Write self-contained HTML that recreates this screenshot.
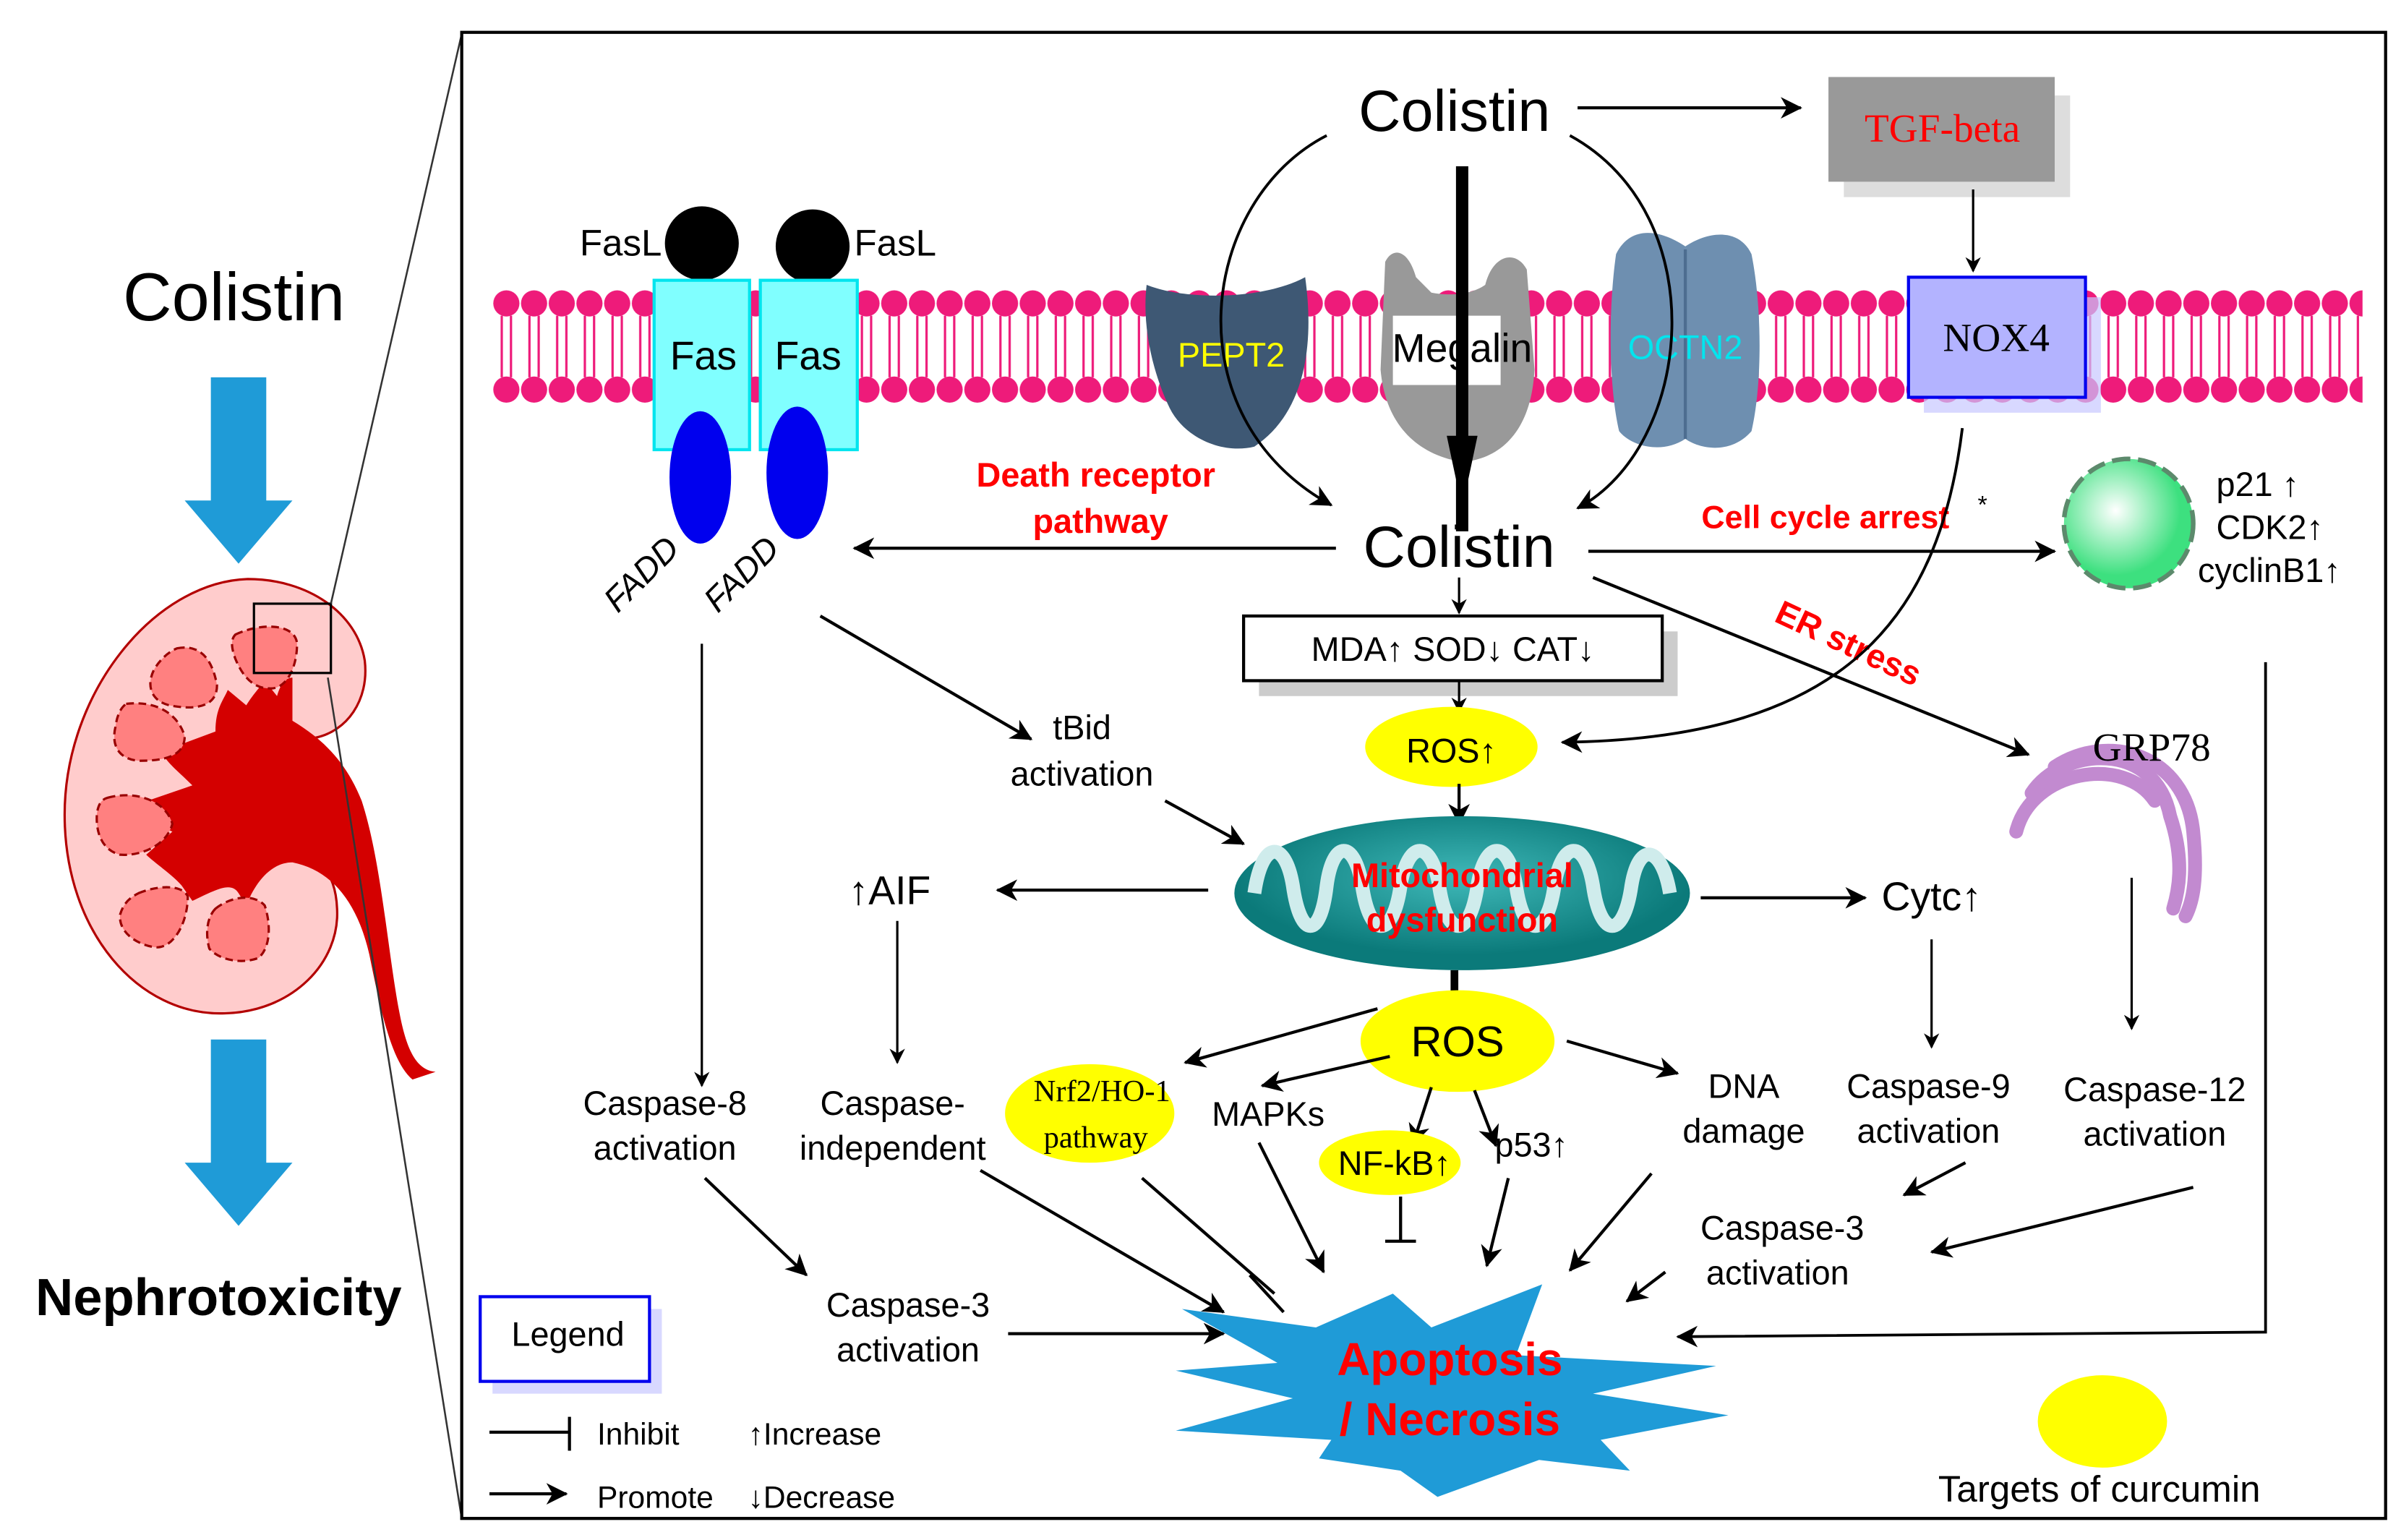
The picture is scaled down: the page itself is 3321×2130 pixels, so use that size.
<!DOCTYPE html>
<html><head><meta charset="utf-8"><style>
html,body{margin:0;padding:0;background:#fff}
svg{display:block}
text{font-family:"Liberation Sans",sans-serif}
</style></head><body>
<svg width="3321" height="2130" viewBox="0 0 1560 1000" preserveAspectRatio="none" xmlns="http://www.w3.org/2000/svg">
<defs>
<marker id="a" markerWidth="10" markerHeight="10" refX="9" refY="5" orient="auto" markerUnits="userSpaceOnUse" viewBox="0 0 10 10"><path d="M0,0 L10,5 L0,10 L3,5 z" fill="#000"/></marker>
<marker id="s" markerWidth="14" markerHeight="14" refX="13" refY="7" orient="auto" markerUnits="userSpaceOnUse" viewBox="0 0 14 14"><path d="M0,0 L14,7 L0,14 L4,7 z" fill="#000"/></marker>
<pattern id="mem" x="320" y="185" width="18" height="80" patternUnits="userSpaceOnUse">
<circle cx="9" cy="12" r="8.5" fill="#ee1b7a"/><circle cx="9" cy="68" r="8.5" fill="#ee1b7a"/>
<line x1="6" y1="20" x2="6" y2="60" stroke="#ee1b7a" stroke-width="1.5"/><line x1="12" y1="20" x2="12" y2="60" stroke="#ee1b7a" stroke-width="1.5"/>
</pattern>
<radialGradient id="cell" cx="40%" cy="40%"><stop offset="0" stop-color="#fff"/><stop offset="1" stop-color="#3de07f"/></radialGradient>
<radialGradient id="mito" cx="50%" cy="40%"><stop offset="0" stop-color="#3fb8b8"/><stop offset="1" stop-color="#0b7a7a"/></radialGradient>
</defs>

<!-- left panel -->
<text x="152" y="208" font-size="44" text-anchor="middle">Colistin</text>
<path d="M137,245 H173 V325 H190 L155,366 L120,325 H137 z" fill="#1f9bd7"/>
<path d="M137,675 H173 V755 H190 L155,796 L120,755 H137 z" fill="#1f9bd7"/>
<text x="142" y="854" font-size="34" font-weight="bold" text-anchor="middle">Nephrotoxicity</text>
<!-- kidney -->
<path d="M161,376 C100,378 42,450 42,529 C42,605 90,660 146,658 C190,657 221,625 219,590 C218,565 205,552 185,553 L205,479 C225,475 240,455 237,429 C232,398 200,376 161,376 z" fill="#ffcccc" stroke="#b30000" stroke-width="1.5"/>
<path d="M190,468 C210,480 225,495 235,520 C248,560 252,620 260,660 C265,685 272,695 283,696 L268,701 C255,690 248,660 240,620 C232,585 215,565 190,560 C175,560 165,575 160,588 L155,580 C150,572 140,578 125,585 L118,575 C112,568 100,560 95,555 L112,540 C100,535 98,528 90,522 L125,510 C115,500 108,495 105,488 L140,475 C140,460 145,455 148,448 L160,458 C165,450 170,445 172,442 L180,452 C182,445 185,440 190,440 z" fill="#d40000"/>
<g fill="#ff8080" stroke="#990000" stroke-width="1.5" stroke-dasharray="5,3">
<path d="M153,412 C170,404 192,405 193,418 C193,435 185,448 175,447 C165,447 158,440 153,428 C150,420 150,415 153,412 z"/>
<path d="M115,421 C130,418 138,428 141,445 C141,460 125,461 110,458 C98,455 95,445 100,435 C104,428 110,423 115,421 z"/>
<path d="M82,457 C100,455 115,462 120,478 C120,492 105,494 90,494 C78,493 72,485 75,472 C76,465 78,460 82,457 z"/>
<path d="M70,518 C88,513 108,520 112,535 C108,550 90,556 78,555 C66,552 62,540 63,528 C64,522 66,519 70,518 z"/>
<path d="M90,580 C102,575 118,574 122,582 C122,600 112,617 100,615 C88,613 77,605 78,594 C80,587 84,583 90,580 z"/>
<path d="M140,590 C150,582 165,580 172,588 C176,600 176,615 168,622 C158,626 143,624 136,616 C133,605 135,595 140,590 z"/>
</g>
<rect x="165" y="392" width="50" height="45" fill="none" stroke="#000" stroke-width="1.5"/>
<line x1="215" y1="392" x2="300" y2="22" stroke="#333" stroke-width="1.2"/>
<line x1="213" y1="440" x2="300" y2="986" stroke="#333" stroke-width="1.2"/>

<!-- frame -->
<rect x="300" y="21" width="1250" height="965" fill="none" stroke="#000" stroke-width="2"/>

<!-- membrane -->
<rect x="320" y="185" width="1215" height="80" fill="url(#mem)"/>

<!-- Fas -->
<circle cx="456" cy="158" r="24" fill="#000"/><circle cx="528" cy="160" r="24" fill="#000"/>
<text x="430" y="166" font-size="24" text-anchor="end">FasL</text>
<text x="555" y="166" font-size="24">FasL</text>
<rect x="425" y="182" width="62" height="110" fill="#80ffff" stroke="#00e5ee" stroke-width="2"/>
<rect x="494" y="182" width="63" height="110" fill="#80ffff" stroke="#00e5ee" stroke-width="2"/>
<text x="457" y="240" font-size="26" text-anchor="middle">Fas</text>
<text x="525" y="240" font-size="26" text-anchor="middle">Fas</text>
<ellipse cx="455" cy="310" rx="20" ry="43" fill="#0000ee"/>
<ellipse cx="518" cy="307" rx="20" ry="43" fill="#0000ee"/>
<text x="422" y="378" font-size="22" transform="rotate(-45 422 378)" text-anchor="middle" font-style="italic">FADD</text>
<text x="487" y="378" font-size="22" transform="rotate(-45 487 378)" text-anchor="middle" font-style="italic">FADD</text>

<!-- transporters -->
<path d="M745,185 C770,195 820,195 848,180 C855,230 845,270 815,290 C795,295 770,285 760,265 C748,240 742,210 745,185 z" fill="#3e5874"/>
<text x="800" y="238" font-size="22" fill="#ffff00" text-anchor="middle">PEPT2</text>
<path d="M900,170 C905,160 915,162 920,180 L930,190 C940,192 955,192 965,185 C970,165 985,162 992,175 L997,240 C995,280 975,298 950,300 C920,295 900,275 897,240 z" fill="#999"/>
<rect x="905" y="205" width="70" height="45" fill="#fff"/>
<text x="950" y="235" font-size="26" text-anchor="middle">Megalin</text>
<path d="M1050,165 C1060,145 1080,150 1095,160 C1110,150 1130,148 1138,165 C1145,200 1145,250 1138,280 C1125,295 1105,292 1095,285 C1080,295 1060,290 1052,280 C1045,250 1045,200 1050,165 z" fill="#6e8fb0"/>
<line x1="1095" y1="162" x2="1095" y2="285" stroke="#4d6d90" stroke-width="2"/>
<text x="1095" y="233" font-size="22" fill="#00e5ee" text-anchor="middle">OCTN2</text>

<!-- NOX4 / TGF -->
<rect x="1250" y="193" width="115" height="75" fill="#c8c8ff" opacity=".7"/>
<rect x="1240" y="180" width="115" height="78" fill="#b3b3ff" stroke="#0000ee" stroke-width="2"/>
<text x="1297" y="228" font-size="26" text-anchor="middle" style="font-family:'Liberation Serif',serif">NOX4</text>
<rect x="1198" y="62" width="147" height="66" fill="#ddd"/>
<rect x="1188" y="50" width="147" height="68" fill="#999"/>
<text x="1262" y="92" font-size="26" fill="#ff0000" text-anchor="middle" style="font-family:'Liberation Serif',serif">TGF-beta</text>
<line x1="1282" y1="123" x2="1282" y2="176" stroke="#000" stroke-width="1.5" marker-end="url(#a)"/>

<!-- Colistin top -->
<text x="945" y="85" font-size="38" text-anchor="middle">Colistin</text>
<line x1="1025" y1="70" x2="1170" y2="70" stroke="#000" stroke-width="2" marker-end="url(#s)"/>
<line x1="950" y1="108" x2="950" y2="345" stroke="#000" stroke-width="8"/>
<path d="M940,283 L960,283 L950,330 z" fill="#000"/>
<path d="M862,88 C780,130 760,270 865,328" fill="none" stroke="#000" stroke-width="1.8" marker-end="url(#s)"/>
<path d="M1020,88 C1115,140 1100,290 1025,330" fill="none" stroke="#000" stroke-width="1.8" marker-end="url(#s)"/>

<!-- Colistin middle -->
<text x="948" y="368" font-size="38" text-anchor="middle">Colistin</text>
<text x="712" y="316" font-size="22" fill="#ff0000" font-weight="bold" text-anchor="middle">Death receptor</text>
<text x="715" y="346" font-size="22" fill="#ff0000" font-weight="bold" text-anchor="middle">pathway</text>
<line x1="868" y1="356" x2="555" y2="356" stroke="#000" stroke-width="2" marker-end="url(#s)"/>
<line x1="1032" y1="358" x2="1335" y2="358" stroke="#000" stroke-width="2" marker-end="url(#s)"/>
<text x="1186" y="343" font-size="21" fill="#ff0000" font-weight="bold" text-anchor="middle">Cell cycle arrest</text>
<text x="1285" y="333" font-size="16">*</text>
<circle cx="1383" cy="340" r="42" fill="url(#cell)" stroke="#5c8a6c" stroke-width="3" stroke-dasharray="12,5"/>
<text x="1440" y="322" font-size="22">p21 ↑</text>
<text x="1440" y="350" font-size="22">CDK2↑</text>
<text x="1428" y="378" font-size="22">cyclinB1↑</text>
<line x1="1035" y1="375" x2="1318" y2="490" stroke="#000" stroke-width="2" marker-end="url(#s)"/>
<text x="1200" y="425" font-size="22" fill="#ff0000" font-weight="bold" text-anchor="middle" transform="rotate(25 1200 420)">ER stress</text>
<path d="M1275,278 C1260,400 1200,480 1015,482" fill="none" stroke="#000" stroke-width="1.8" marker-end="url(#s)"/>

<!-- MDA box -->
<line x1="948" y1="375" x2="948" y2="398" stroke="#000" stroke-width="1.5" marker-end="url(#a)"/>
<rect x="818" y="410" width="272" height="42" fill="#ccc"/>
<rect x="808" y="400" width="272" height="42" fill="#fff" stroke="#000" stroke-width="2"/>
<text x="944" y="429" font-size="22" text-anchor="middle">MDA↑ SOD↓ CAT↓</text>
<line x1="948" y1="442" x2="948" y2="462" stroke="#000" stroke-width="1.5" marker-end="url(#a)"/>
<ellipse cx="943" cy="485" rx="56" ry="26" fill="#ffff00"/>
<text x="943" y="495" font-size="22" text-anchor="middle">ROS↑</text>
<line x1="948" y1="509" x2="948" y2="535" stroke="#000" stroke-width="2" marker-end="url(#s)"/>

<!-- FADD branches -->
<line x1="533" y1="400" x2="670" y2="480" stroke="#000" stroke-width="2" marker-end="url(#s)"/>
<text x="703" y="480" font-size="22" text-anchor="middle">tBid</text>
<text x="703" y="510" font-size="22" text-anchor="middle">activation</text>
<line x1="757" y1="520" x2="808" y2="548" stroke="#000" stroke-width="2" marker-end="url(#s)"/>
<line x1="456" y1="418" x2="456" y2="705" stroke="#000" stroke-width="1.5" marker-end="url(#a)"/>

<!-- mitochondria -->
<ellipse cx="950" cy="580" rx="148" ry="50" fill="url(#mito)"/>
<path d="M815,580 C820,545 835,545 840,575 C845,610 858,610 862,575 C866,545 880,545 885,575 C890,610 905,610 910,575 C915,545 930,545 935,575 C940,610 955,610 960,575 C965,545 980,545 985,575 C990,610 1005,610 1010,575 C1015,545 1030,545 1035,575 C1040,610 1055,610 1060,575 C1065,545 1080,550 1085,580" fill="none" stroke="#cfecec" stroke-width="9"/>
<text x="950" y="576" font-size="22" fill="#ff0000" font-weight="bold" text-anchor="middle">Mitochondrial</text>
<text x="950" y="605" font-size="22" fill="#ff0000" font-weight="bold" text-anchor="middle">dysfunction</text>
<line x1="785" y1="578" x2="648" y2="578" stroke="#000" stroke-width="2" marker-end="url(#s)"/>
<text x="578" y="587" font-size="26" text-anchor="middle">↑AIF</text>
<line x1="583" y1="598" x2="583" y2="690" stroke="#000" stroke-width="1.5" marker-end="url(#a)"/>
<line x1="1105" y1="583" x2="1212" y2="583" stroke="#000" stroke-width="2" marker-end="url(#s)"/>
<text x="1255" y="591" font-size="26" text-anchor="middle">Cytc↑</text>
<line x1="1255" y1="610" x2="1255" y2="680" stroke="#000" stroke-width="1.5" marker-end="url(#a)"/>

<!-- GRP78 -->
<g fill="none" stroke="#c28ad0" stroke-width="9" stroke-linecap="round">
<path d="M1310,540 C1320,500 1380,490 1400,520"/>
<path d="M1320,515 C1340,485 1400,480 1410,530 C1420,560 1415,580 1412,590"/>
<path d="M1335,498 C1370,475 1420,490 1425,540 C1428,570 1425,585 1420,595"/>
</g>
<text x="1398" y="494" font-size="26" text-anchor="middle" style="font-family:'Liberation Serif',serif">GRP78</text>
<line x1="1385" y1="570" x2="1385" y2="668" stroke="#000" stroke-width="1.5" marker-end="url(#a)"/>
<polyline points="1472,430 1472,865 1090,868" fill="none" stroke="#000" stroke-width="1.8" marker-end="url(#s)"/>

<!-- ROS lower -->
<line x1="945" y1="630" x2="945" y2="660" stroke="#000" stroke-width="5"/>
<ellipse cx="947" cy="676" rx="63" ry="33" fill="#ffff00"/>
<text x="947" y="686" font-size="28" text-anchor="middle">ROS</text>
<line x1="895" y1="655" x2="770" y2="690" stroke="#000" stroke-width="2" marker-end="url(#s)"/>
<line x1="903" y1="686" x2="820" y2="705" stroke="#000" stroke-width="2" marker-end="url(#s)"/>
<line x1="930" y1="706" x2="918" y2="743" stroke="#000" stroke-width="2" marker-end="url(#s)"/>
<line x1="958" y1="708" x2="972" y2="744" stroke="#000" stroke-width="2" marker-end="url(#s)"/>
<line x1="1018" y1="676" x2="1090" y2="697" stroke="#000" stroke-width="2" marker-end="url(#s)"/>
<ellipse cx="708" cy="723" rx="55" ry="32" fill="#ffff00"/>
<text x="716" y="715" font-size="20" text-anchor="middle" style="font-family:'Liberation Serif',serif">Nrf2/HO-1</text>
<text x="712" y="745" font-size="20" text-anchor="middle" style="font-family:'Liberation Serif',serif">pathway</text>
<text x="824" y="731" font-size="22" text-anchor="middle">MAPKs</text>
<ellipse cx="903" cy="755" rx="46" ry="21" fill="#ffff00"/>
<text x="906" y="763" font-size="22" text-anchor="middle">NF-kB↑</text>
<text x="995" y="751" font-size="22" text-anchor="middle">p53↑</text>
<text x="1133" y="713" font-size="22" text-anchor="middle">DNA</text>
<text x="1133" y="742" font-size="22" text-anchor="middle">damage</text>
<text x="1253" y="713" font-size="22" text-anchor="middle">Caspase-9</text>
<text x="1253" y="742" font-size="22" text-anchor="middle">activation</text>
<text x="1400" y="715" font-size="22" text-anchor="middle">Caspase-12</text>
<text x="1400" y="744" font-size="22" text-anchor="middle">activation</text>
<text x="432" y="724" font-size="22" text-anchor="middle">Caspase-8</text>
<text x="432" y="753" font-size="22" text-anchor="middle">activation</text>
<text x="580" y="724" font-size="22" text-anchor="middle">Caspase-</text>
<text x="580" y="753" font-size="22" text-anchor="middle">independent</text>
<text x="1158" y="805" font-size="22" text-anchor="middle">Caspase-3</text>
<text x="1155" y="834" font-size="22" text-anchor="middle">activation</text>
<text x="590" y="855" font-size="22" text-anchor="middle">Caspase-3</text>
<text x="590" y="884" font-size="22" text-anchor="middle">activation</text>

<!-- arrows to apoptosis -->
<line x1="458" y1="765" x2="524" y2="828" stroke="#000" stroke-width="2" marker-end="url(#s)"/>
<line x1="655" y1="866" x2="795" y2="866" stroke="#000" stroke-width="2" marker-end="url(#s)"/>
<line x1="637" y1="760" x2="795" y2="852" stroke="#000" stroke-width="2" marker-end="url(#s)"/>
<line x1="742" y1="765" x2="828" y2="840" stroke="#000" stroke-width="2"/>
<line x1="812" y1="828" x2="834" y2="852" stroke="#000" stroke-width="2"/>
<line x1="818" y1="742" x2="860" y2="826" stroke="#000" stroke-width="2" marker-end="url(#s)"/>
<line x1="910" y1="777" x2="910" y2="806" stroke="#000" stroke-width="2"/>
<line x1="900" y1="806" x2="920" y2="806" stroke="#000" stroke-width="2"/>
<line x1="980" y1="765" x2="966" y2="822" stroke="#000" stroke-width="2" marker-end="url(#s)"/>
<line x1="1073" y1="762" x2="1020" y2="825" stroke="#000" stroke-width="2" marker-end="url(#s)"/>
<line x1="1277" y1="755" x2="1237" y2="776" stroke="#000" stroke-width="2" marker-end="url(#s)"/>
<line x1="1425" y1="771" x2="1255" y2="813" stroke="#000" stroke-width="2" marker-end="url(#s)"/>
<line x1="1082" y1="826" x2="1057" y2="845" stroke="#000" stroke-width="2" marker-end="url(#s)"/>

<!-- starburst -->
<polygon points="768,850 855,862 905,840 930,862 1002,834 985,880 1115,887 1035,905 1123,919 1040,935 1059,955 1000,948 934,972 910,955 857,947 865,935 764,929 840,908 764,890 830,885" fill="#1f9bd7"/>
<text x="942" y="893" font-size="30" fill="#ff0000" font-weight="bold" text-anchor="middle">Apoptosis</text>
<text x="942" y="932" font-size="30" fill="#ff0000" font-weight="bold" text-anchor="middle">/ Necrosis</text>

<!-- legend -->
<rect x="320" y="850" width="110" height="55" fill="#c8c8ff" opacity=".7"/>
<rect x="312" y="842" width="110" height="55" fill="#fff" stroke="#0000ee" stroke-width="2"/>
<text x="369" y="874" font-size="22" text-anchor="middle">Legend</text>
<line x1="318" y1="930" x2="370" y2="930" stroke="#000" stroke-width="2"/>
<line x1="370" y1="920" x2="370" y2="942" stroke="#000" stroke-width="2"/>
<text x="388" y="938" font-size="20">Inhibit</text>
<line x1="318" y1="970" x2="368" y2="970" stroke="#000" stroke-width="2" marker-end="url(#s)"/>
<text x="388" y="979" font-size="20">Promote</text>
<text x="486" y="938" font-size="20">↑Increase</text>
<text x="486" y="979" font-size="20">↓Decrease</text>
<ellipse cx="1366" cy="923" rx="42" ry="30" fill="#ffff00"/>
<text x="1364" y="975" font-size="24" text-anchor="middle">Targets of curcumin</text>
</svg>
</body></html>
